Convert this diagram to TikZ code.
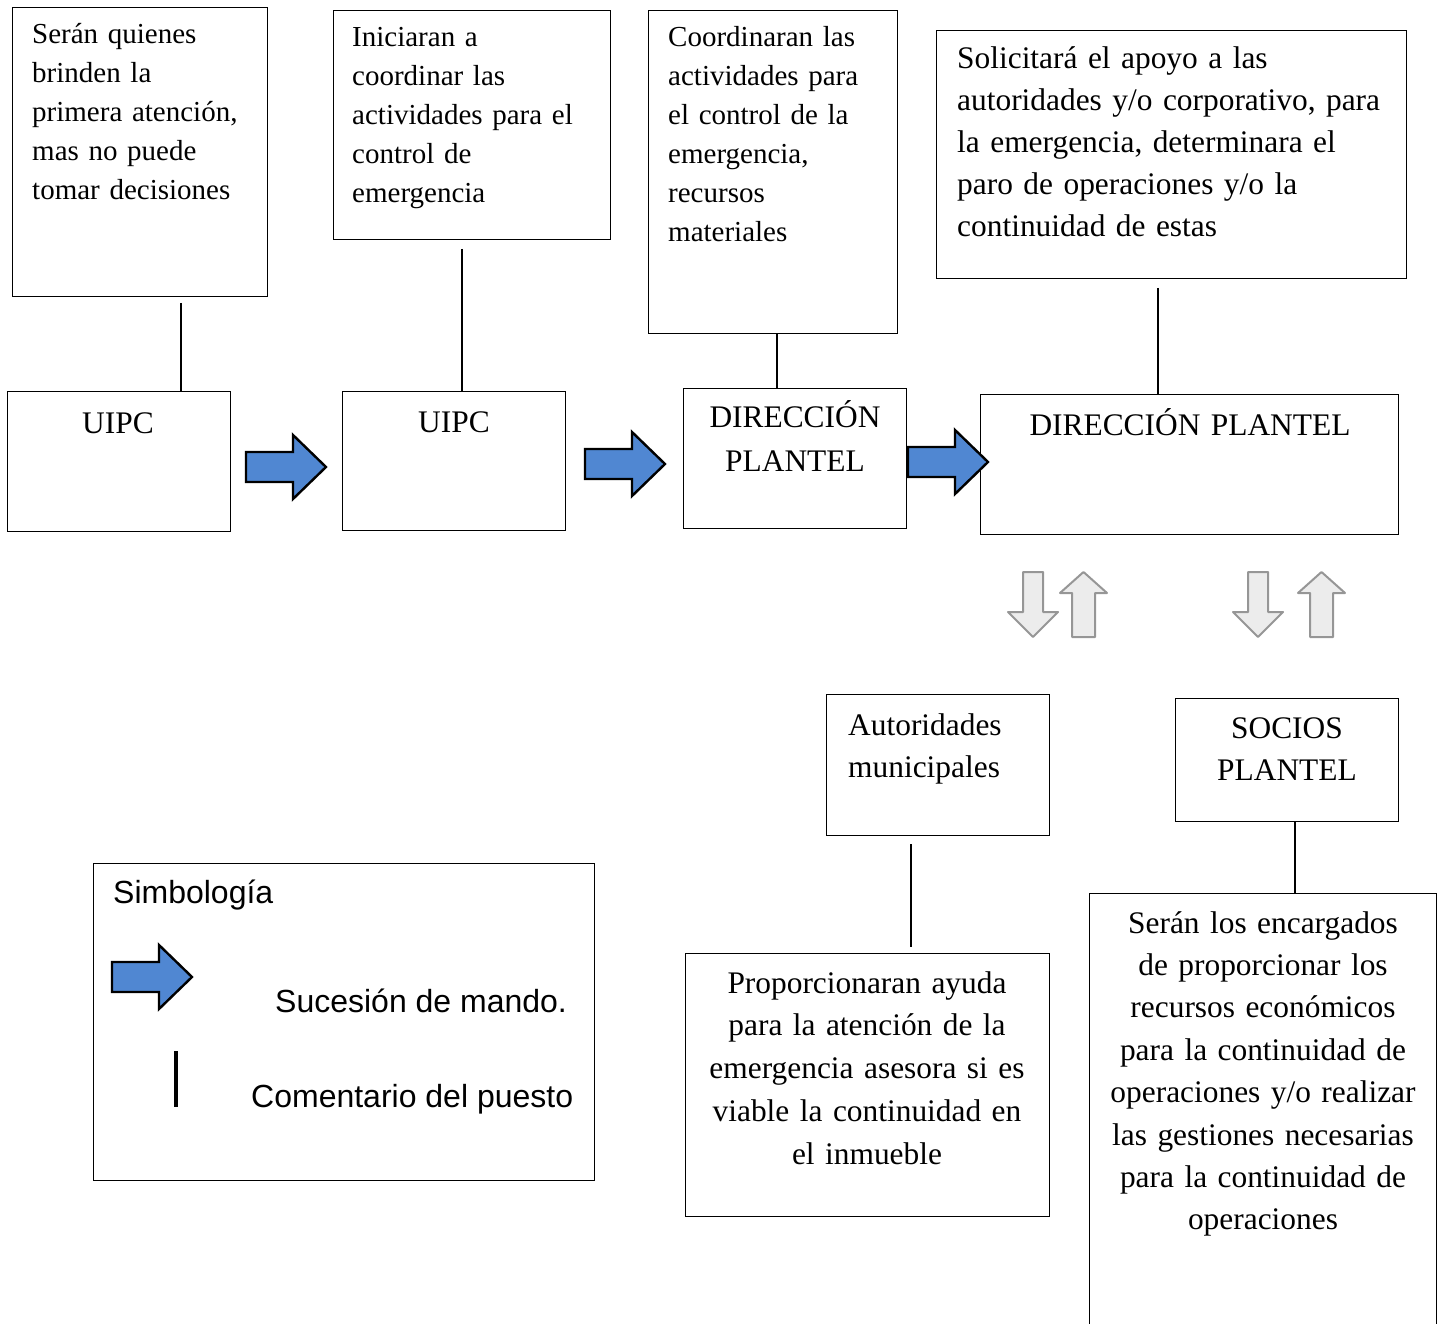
\documentclass[tikz,border=0pt]{standalone}
\usepackage{fontspec}
\setmainfont{Liberation Serif}
\setsansfont{Liberation Sans}
\definecolor{arrowblue}{RGB}{80,135,210}
\definecolor{arrowgreyfill}{RGB}{236,236,236}
\definecolor{arrowgreyline}{RGB}{150,150,150}
\tikzset{
  box/.style={draw, line width=1.2pt, rectangle, inner sep=0pt, anchor=north west},
  smalltxt/.style={font=\fontsize{29}{39}\selectfont, inner sep=0pt, text width=320pt, align=left, anchor=base west},
  bigtxt/.style={font=\fontsize{31.4}{42}\selectfont, inner sep=0pt, text width=460pt, align=left, anchor=base west},
  ctrtxt/.style={font=\fontsize{31.4}{42.6}\selectfont, inner sep=0pt, text width=400pt, align=center, anchor=base},
  sanstxt/.style={font=\sffamily\fontsize{32}{40}\selectfont, inner sep=0pt, anchor=base west},
  conn/.style={line width=1.2pt},
  bluearrow/.pic={\draw[fill=arrowblue, line width=2.4pt, line join=miter]
      (0,17) -- (47,17) -- (47,0) -- (80,32) -- (47,64) -- (47,47) -- (0,47) -- cycle;},
  greydown/.pic={\draw[fill=arrowgreyfill, draw=arrowgreyline, line width=2pt, line join=round]
      (-10,0) -- (10,0) -- (10,40) -- (25,40) -- (0,65) -- (-25,40) -- (-10,40) -- cycle;},
  greyup/.pic={\draw[fill=arrowgreyfill, draw=arrowgreyline, line width=2pt, line join=round]
      (0,0) -- (23.5,21) -- (11.5,21) -- (11.5,65) -- (-11.5,65) -- (-11.5,21) -- (-23.5,21) -- cycle;}
}
\begin{document}
\begin{tikzpicture}[x=1pt, y=-1pt]
\useasboundingbox (0,0) rectangle (1441,1324);
\clip (0,0) rectangle (1441,1324);

% top comment boxes
\node[box, minimum width=255pt, minimum height=289pt] (bA) at (12,7) {};
\node[box, minimum width=277pt, minimum height=229pt] (bB) at (333,10) {};
\node[box, minimum width=249pt, minimum height=323pt] (bC) at (648,10) {};
\node[box, minimum width=470pt, minimum height=248pt] (bD) at (936,30) {};

\node[smalltxt] (tA) at (32,44) {Serán quienes\\brinden la\\primera atención,\\mas no puede\\tomar decisiones};
\node[smalltxt] (tB) at (352,47) {Iniciaran a\\coordinar las\\actividades para el\\control de\\emergencia};
\node[smalltxt] (tC) at (668,47) {Coordinaran las\\actividades para\\el control de la\\emergencia,\\recursos\\materiales};
\node[bigtxt] (tD) at (957,69) {Solicitará el apoyo a las\\autoridades y/o corporativo, para\\la emergencia, determinara el\\paro de operaciones y/o la\\continuidad de estas};

% position boxes
\node[box, minimum width=223pt, minimum height=140pt] (u1) at (7,391) {};
\node[box, minimum width=223pt, minimum height=139pt] (u2) at (342,391) {};
\node[box, minimum width=223pt, minimum height=140pt] (d1) at (683,388) {};
\node[box, minimum width=418pt, minimum height=140pt] (d2) at (980,394) {};

\node[ctrtxt] (tu1) at (118,433) {UIPC};
\node[ctrtxt] (tu2) at (454,432) {UIPC};
\node[ctrtxt, font=\fontsize{31.4}{44}\selectfont] (td1) at (795,427) {DIRECCIÓN\\PLANTEL};
\node[ctrtxt] (td2) at (1190,435) {DIRECCIÓN PLANTEL};

% connectors top
\coordinate (cA) at (181,303);
\coordinate (cB) at (462,249);
\coordinate (cD) at (1158,288);
\draw[conn] (cA) -- (cA |- u1.north);
\draw[conn] (cB) -- (cB |- u2.north);
\draw[conn] (777,0 |- bC.south) -- (777,0 |- d1.north);
\draw[conn] (cD) -- (cD |- d2.north);

% blue succession arrows
\pic (arr1) at (246,435) {bluearrow};
\pic (arr2) at (585,432) {bluearrow};
\pic (arr3) at (908,430) {bluearrow};

% grey up/down arrows
\pic (g1) at (1033,572) {greydown};
\pic (g2) at (1083.5,572) {greyup};
\pic (g3) at (1258,572) {greydown};
\pic (g4) at (1321.5,572) {greyup};

% lower boxes
\node[box, minimum width=223pt, minimum height=141pt] (aut) at (826,694) {};
\node[box, minimum width=223pt, minimum height=123pt] (soc) at (1175,698) {};
\node[box, minimum width=364pt, minimum height=263pt] (prop) at (685,953) {};
\node[box, minimum width=347pt, minimum height=500pt] (ser) at (1089,893) {};

\node[bigtxt] (taut) at (848,735) {Autoridades\\municipales};
\node[ctrtxt, font=\fontsize{31.4}{42}\selectfont] (tsoc) at (1287,738) {SOCIOS\\PLANTEL};
\node[ctrtxt, font=\fontsize{31.4}{42.75}\selectfont] (tprop) at (867,993) {Proporcionaran ayuda\\para la atención de la\\emergencia asesora si es\\viable la continuidad en\\el inmueble};
\node[ctrtxt, font=\fontsize{31.4}{42.4}\selectfont] (tser) at (1263,933) {Serán los encargados\\de proporcionar los\\recursos económicos\\para la continuidad de\\operaciones y/o realizar\\las gestiones necesarias\\para la continuidad de\\operaciones};

\coordinate (cAut1) at (911,844);
\coordinate (cAut2) at (911,947);
\draw[conn] (cAut1) -- (cAut2);
\draw[conn] (1295,0 |- soc.south) -- (1295,0 |- ser.north);

% legend
\node[box, minimum width=501pt, minimum height=317pt] (leg) at (93,863) {};
\node[sanstxt] (lt) at (113,903) {Simbología};
\pic (legarr) at (112,945) {bluearrow};
\node[sanstxt] (l1) at (275,1012) {Sucesión de mando.};
\coordinate (lb1) at (176,1051);
\coordinate (lb2) at (176,1107);
\draw[line width=4pt] (lb1) -- (lb2);
\node[sanstxt] (l2) at (251,1107) {Comentario del puesto};
\end{tikzpicture}
\end{document}
